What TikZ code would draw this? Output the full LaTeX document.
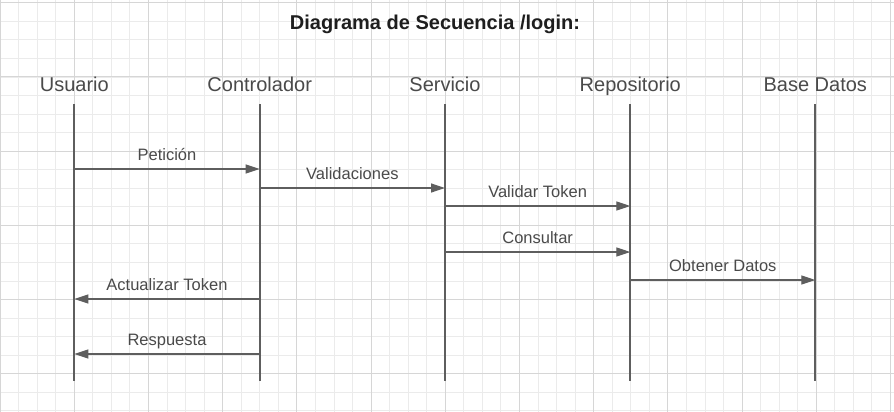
\documentclass[tikz,border=0pt]{standalone}
\usepackage{fontspec}
\setmainfont{Liberation Sans}
\usetikzlibrary{arrows.meta}
\definecolor{gridmin}{HTML}{EBEBEB}
\definecolor{gridmaj}{HTML}{D6D6D6}
\definecolor{lineclr}{HTML}{5E5E5E}
\definecolor{txtclr}{HTML}{4A4A4A}
\definecolor{titleclr}{HTML}{1E1E1E}
\tikzset{
  gridminor/.style={gridmin,line width=0.8pt},
  gridmajor/.style={gridmaj,line width=1pt},
  head/.style={anchor=base,text=txtclr,font=\fontsize{20}{24}\selectfont,inner sep=0pt},
  lifeline/.style={lineclr,line width=1.8pt},
  msg/.style={lineclr,line width=1.2pt,-{Triangle[length=14pt,width=9pt]}},
  msglabel/.style={midway,anchor=base,yshift=9pt,inner sep=0pt,text=txtclr,font=\fontsize{16.5}{20}\selectfont}
}
\begin{document}
\begin{tikzpicture}[x=1pt,y=-1pt]
\useasboundingbox (0,0) rectangle (894,412);
\fill[white] (0,0) rectangle (894,412);

% grid
\foreach \i in {0,...,48} \draw[gridminor] (\i*18.55,0) -- (\i*18.55,412);
\foreach \j in {0,...,22} \draw[gridminor] (0,2.7+\j*18.55) -- (894,2.7+\j*18.55);
\foreach \i in {0,...,12} \draw[gridmajor] (\i*74.2,0) -- (\i*74.2,412);
\foreach \j in {0,...,5} \draw[gridmajor] (0,2.7+\j*74.2) -- (894,2.7+\j*74.2);

\node[anchor=base,inner sep=0pt,text=titleclr,font=\bfseries\fontsize{20}{24}\selectfont] (title) at (435,30) {Diagrama de Secuencia /login:};

% lifelines
\foreach \n/\x/\t in {usr/74.3/Usuario, ctl/259.7/Controlador, srv/445/Servicio, rep/630.3/Repositorio, bd/815.3/Base Datos}{
  \node[head] (\n) at (\x,91.7) {\t};
  \coordinate (\n A) at (\x,104);
  \coordinate (\n Z) at (\x,381);
  \draw[lifeline] (\n A) -- (\n Z);
}

% messages
\foreach \a/\b/\y/\t in {usr/ctl/169/Petición, ctl/srv/188/Validaciones, srv/rep/206/Validar Token, srv/rep/252/Consultar, rep/bd/280/Obtener Datos, ctl/usr/299/Actualizar Token, ctl/usr/354/Respuesta}
  \draw[msg] (\a A |- 0,\y) -- node[msglabel] {\t} (\b A |- 0,\y);
\end{tikzpicture}
\end{document}
